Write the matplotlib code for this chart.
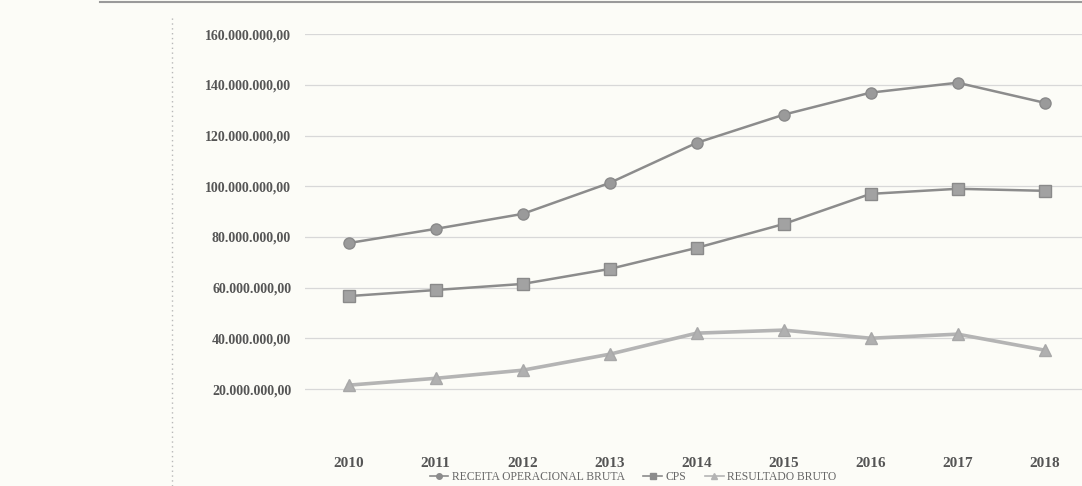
import numpy as np
import matplotlib.pyplot as plt
from matplotlib.lines import Line2D

anos = ['2010', '2011', '2012', '2013', '2014', '2015', '2016', '2017', '2018']
receita = [77.6, 83.2, 89.1, 101.3, 117.1, 128.2, 136.9, 140.8, 132.9]
cps = [56.7, 59.1, 61.5, 67.4, 75.7, 85.1, 97.0, 99.0, 98.2]
resultado = [21.6, 24.3, 27.5, 33.8, 42.1, 43.3, 40.1, 41.7, 35.4]
rotulos = ['RECEITA OPERACIONAL BRUTA', 'CPS', 'RESULTADO BRUTO']

fundo = '#fcfcf7'
fig = plt.figure(figsize=(10.82, 4.86), dpi=100, facecolor=fundo)
ax = fig.add_axes([0.282, 0.0947, 0.718, 0.8353], facecolor=fundo)

x = np.arange(len(anos))
escala = 1e6
ax.plot(x, np.array(receita) * escala, '-o', color='#8c8c8c', lw=1.8,
        ms=8, mfc='#9a9a9a', mec='#8a8a8a', label=rotulos[0])
ax.plot(x, np.array(cps) * escala, '-s', color='#8c8c8c', lw=1.8,
        ms=9, mfc='#a2a2a2', mec='#8a8a8a', label=rotulos[1])
ax.plot(x, np.array(resultado) * escala, '-^', color='#b4b4b4', lw=2.6,
        ms=8, mfc='#b0b0b0', mec='#a8a8a8', label=rotulos[2])

ax.set_xlim(-0.5, 8.43)
ax.set_ylim(0, 160e6)
ax.set_yticks(np.arange(20e6, 160e6 + 1, 20e6))


def fmt(v):
    return f'{v:,.2f}'.replace(',', 'X').replace('.', ',').replace('X', '.')


ax.set_yticklabels([fmt(v) for v in ax.get_yticks()],
                   fontsize=10, color='#555555', fontweight='bold',
                   family='Liberation Serif')
ax.set_xticks(x)
ax.set_xticklabels(anos, fontsize=11, color='#555555', fontweight='bold',
                   family='Liberation Serif')
ax.tick_params(length=0, pad=12)
ax.tick_params(axis='y', pad=10)
ax.grid(axis='y', color='#d8d8d8', lw=0.9)
ax.set_axisbelow(True)
for s in ax.spines.values():
    s.set_visible(False)

alcas = [Line2D([], [], color='#8c8c8c', marker='o', ms=4, lw=1.2),
         Line2D([], [], color='#8c8c8c', marker='s', ms=4, lw=1.2),
         Line2D([], [], color='#b4b4b4', marker='^', ms=4, lw=1.2)]
leg = fig.legend(alcas, rotulos, loc='lower center', bbox_to_anchor=(0.585, -0.016),
                 ncol=3, frameon=False, handlelength=1.6, handletextpad=0.3,
                 columnspacing=1.6, prop={'family': 'Liberation Serif', 'size': 8.4})
for t in leg.get_texts():
    t.set_color('#666666')

# borda pontilhada à esquerda e traço no topo da página
fig.add_artist(Line2D([172 / 1082, 172 / 1082], [0, 0.97], color='#b8b8b8',
                      lw=1, ls=(0, (1, 2.5)), transform=fig.transFigure))
fig.add_artist(Line2D([100 / 1082, 1], [0.995, 0.995], color='#9a9a9a',
                      lw=1.5, transform=fig.transFigure))

fig.savefig('out.png', dpi=100, facecolor=fundo)
